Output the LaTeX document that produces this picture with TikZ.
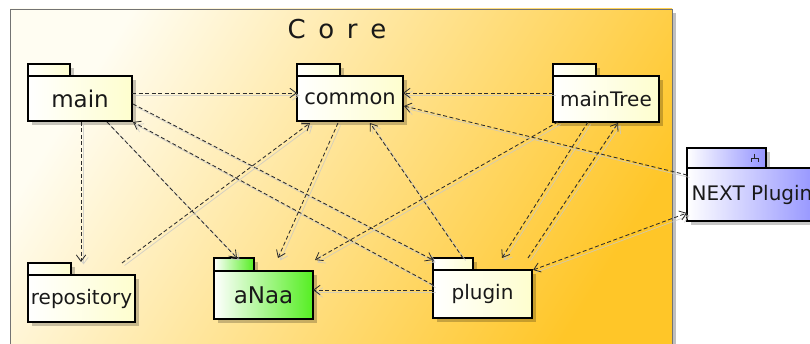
\documentclass[tikz,border=0pt]{standalone}
\usepackage{fontspec}
\setmainfont{DejaVu Sans}
\usetikzlibrary{arrows.meta,calc,shadows}
\definecolor{coreLight}{HTML}{FFFDF2}
\definecolor{coreDark}{HTML}{FFC628}
\definecolor{pkgCream}{HTML}{FEFECE}
\definecolor{pkgGreen}{HTML}{55EE22}
\definecolor{pkgBlue}{HTML}{9494FF}
\definecolor{depInk}{HTML}{2C2C2C}
\definecolor{depHalo}{HTML}{C8C8C8}
\begin{document}
\begin{tikzpicture}[x=1pt,y=-1pt,
  boxshadow/.style={drop shadow={shadow xshift=4pt,shadow yshift=-4pt,opacity=0.22,fill=black}},
  pkgtab/.style={draw=black,line width=1.1pt,boxshadow},
  pkgbody/.style={draw=black,line width=1.1pt,anchor=north west,inner sep=0pt,outer sep=0pt,
    text=black!90,font=\fontsize{20}{24}\selectfont,boxshadow},
  cream/.style={left color=white,right color=pkgCream},
  greenish/.style={left color=white,right color=pkgGreen},
  bluish/.style={left color=white,right color=pkgBlue},
  dep/.style={draw=depInk,line width=0.85pt,dash pattern=on 4pt off 2.5pt,
    -{Straight Barb[length=6.5pt,width=9.5pt,line width=0.8pt]}},
  dephalo/.style={draw=depHalo,opacity=0.75,line width=0.8pt,
    -{Straight Barb[length=6.5pt,width=9.5pt,line width=0.8pt]},
    transform canvas={shift={(2.5pt,-2.5pt)}}},
]
\useasboundingbox (0,0) rectangle (810,344);
\clip (0,0) rectangle (810,344);

% the Core frame
\fill[black!25] (14,13) rectangle (676,360);
\draw[draw=black!55,line width=0.9pt,shading=axis,top color=coreLight,bottom color=coreDark,
  shading angle=58] (10,9) rectangle (672,360);
\node[font=\fontsize{26}{30}\selectfont,text=black!90] (title) at (337,29) {C\,\ o\,\ r\,\ e};

% package tabs
\draw[pkgtab,cream] (28,64) rectangle (70,76);
\draw[pkgtab,cream] (297,64) rectangle (340,76);
\draw[pkgtab,cream] (553,64) rectangle (596,76);
\draw[pkgtab,cream] (28,263) rectangle (71,275);
\draw[pkgtab,greenish] (214,258) rectangle (254,271);
\draw[pkgtab,cream] (433,258) rectangle (473,270);
\draw[pkgtab,bluish] (687,148) rectangle (766,168);
% component glyph on the NEXT Plugin tab
\draw[black!85,line width=0.8pt] (754.5,154) -- (754.5,158) (751,162) -- (751,158) -- (758,158) -- (758,162);

% package bodies
\node[pkgbody,cream,minimum width=104pt,minimum height=45pt,font=\fontsize{23}{27}\selectfont] (main) at (28,76) {main};
\node[pkgbody,cream,minimum width=106pt,minimum height=45pt,font=\fontsize{21}{25}\selectfont] (common) at (297,76) {common};
\node[pkgbody,cream,minimum width=106pt,minimum height=46pt] (mainTree) at (553,76) {mainTree};
\node[pkgbody,cream,minimum width=107pt,minimum height=47pt] (repository) at (28,275) {repository};
\node[pkgbody,greenish,minimum width=99pt,minimum height=48pt,font=\fontsize{23}{27}\selectfont] (aNaa) at (214,271) {aNaa};
\node[pkgbody,cream,minimum width=99pt,minimum height=48pt] (plugin) at (433,270) {plugin};
\node[pkgbody,bluish,minimum width=130pt,minimum height=53pt] (next) at (687,168) {NEXT Plugin};

% dependencies: a soft halo line under each dashed arrow
\newcommand\depline[3][dep]{%
  \draw[dephalo] #2 -- #3;
  \draw[#1] #2 -- #3;}

\depline{($(main.north east)+(0,17)$)}{($(common.north west)+(0,17)$)}
\depline{($(mainTree.north west)+(0,17)$)}{($(common.north east)+(0,17)$)}
\depline{($(main.south)+(1,1)$)}{($(repository.north west)+(53,-13)$)}
\depline{($(main.south)+(27,1)$)}{($(aNaa.north west)+(23,-13)$)}
\depline{($(main.north east)+(1,28)$)}{($(plugin.north west)+(0,-10)$)}
\depline{($(plugin.north west)+(0,15)$)}{($(main.south east)+(1,1)$)}
\depline{($(repository.north west)+(94,-12)$)}{($(common.south west)+(13,2)$)}
\depline{($(common.south west)+(41,2)$)}{($(aNaa.north west)+(64,-13)$)}
\depline{($(plugin.north west)+(30,-12)$)}{($(common.south west)+(73,2)$)}
\depline{($(mainTree.south west)+(5,0)$)}{($(aNaa.north east)+(2,-11)$)}
\depline{($(mainTree.south west)+(35,0)$)}{($(plugin.north west)+(69,-12)$)}
\depline{($(plugin.north west)+(95,-12)$)}{($(mainTree.south west)+(65,1)$)}
\depline{($(next.north west)+(0,7)$)}{($(common.north east)+(1,30)$)}
\depline[dep,{Straight Barb[length=6.5pt,width=9.5pt,line width=0.8pt]}-{Straight Barb[length=6.5pt,width=9.5pt,line width=0.8pt]}]{($(plugin.north east)+(1,0)$)}{($(next.north west)+(0,45)$)}
\depline{($(plugin.north west)+(0,20)$)}{($(aNaa.north east)+(0,19)$)}
\end{tikzpicture}
\end{document}
